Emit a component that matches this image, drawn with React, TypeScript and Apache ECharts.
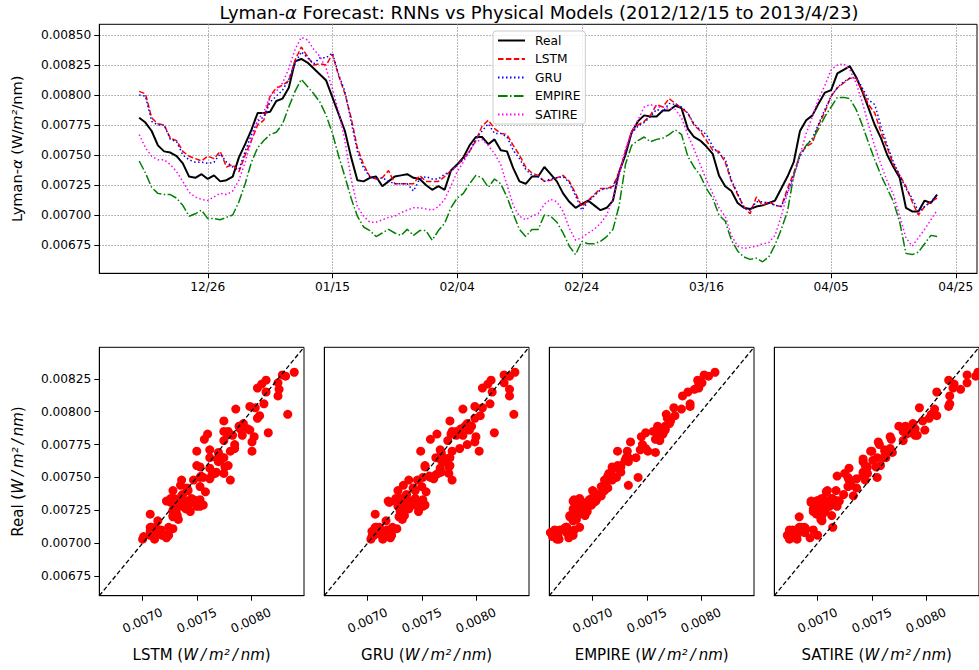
import React, { useEffect, useRef } from 'react';
import * as echarts from 'echarts';

// ---- data (daily values from 2012/12/15, day index 0..128) ----
const titleText = 'Lyman-{i|α} Forecast: RNNs vs Physical Models (2012/12/15 to 2013/4/23)';
const seriesNames = ['Real', 'LSTM', 'GRU', 'EMPIRE', 'SATIRE'];

const real = [
  0.00781, 0.00777, 0.00770, 0.00758, 0.00753, 0.00752, 0.00749, 0.00743, 0.00732, 0.00731,
  0.00734, 0.00730, 0.00733, 0.00728, 0.00729, 0.00732, 0.00748, 0.00759, 0.00771, 0.00785,
  0.00785, 0.00786, 0.00795, 0.00797, 0.00806, 0.00828, 0.00830, 0.00827, 0.00822, 0.00817,
  0.00812, 0.00798, 0.00784, 0.00770, 0.00748, 0.00729, 0.00728, 0.00731, 0.00732, 0.00724,
  0.00728, 0.00732, 0.00733, 0.00734, 0.00731, 0.00730, 0.00725, 0.00721, 0.00724, 0.00721,
  0.00737, 0.00742, 0.00748, 0.00758, 0.00765, 0.00765, 0.00759, 0.00763, 0.00754, 0.00753,
  0.00739, 0.00728, 0.00726, 0.00732, 0.00732, 0.00740, 0.00734, 0.00728, 0.00718, 0.00711,
  0.00706, 0.00709, 0.00712, 0.00708, 0.00704, 0.00706, 0.00712, 0.00736, 0.00750, 0.00769,
  0.00778, 0.00783, 0.00782, 0.00782, 0.00787, 0.00787, 0.00791, 0.00789, 0.00772, 0.00765,
  0.00762, 0.00757, 0.00751, 0.00733, 0.00724, 0.00720, 0.00710, 0.00706, 0.00705, 0.00707,
  0.00708, 0.00710, 0.00712, 0.00722, 0.00732, 0.00744, 0.00770, 0.00779, 0.00783, 0.00793,
  0.00802, 0.00804, 0.00818, 0.00821, 0.00824, 0.00815, 0.00803, 0.00789, 0.00775, 0.00764,
  0.00750, 0.00740, 0.00731, 0.00706, 0.00703, 0.00703, 0.00712, 0.00710, 0.00717,
];

const lstm = [
  0.00803, 0.00801, 0.00781, 0.00776, 0.00775, 0.00764, 0.00762, 0.00753, 0.00749, 0.00747,
  0.00745, 0.00749, 0.00747, 0.00753, 0.00740, 0.00742, 0.00736, 0.00750, 0.00762, 0.00775,
  0.00779, 0.00799, 0.00806, 0.00808, 0.00812, 0.00829, 0.00840, 0.00832, 0.00825, 0.00826,
  0.00825, 0.00834, 0.00816, 0.00801, 0.00781, 0.00756, 0.00742, 0.00732, 0.00730, 0.00731,
  0.00737, 0.00726, 0.00726, 0.00726, 0.00726, 0.00733, 0.00728, 0.00728, 0.00728, 0.00732,
  0.00737, 0.00741, 0.00747, 0.00753, 0.00762, 0.00774, 0.00779, 0.00772, 0.00768, 0.00767,
  0.00758, 0.00750, 0.00740, 0.00735, 0.00733, 0.00728, 0.00729, 0.00731, 0.00733, 0.00728,
  0.00718, 0.00707, 0.00712, 0.00717, 0.00722, 0.00722, 0.00724, 0.00736, 0.00753, 0.00770,
  0.00775, 0.00778, 0.00783, 0.00792, 0.00790, 0.00797, 0.00793, 0.00789, 0.00785, 0.00775,
  0.00770, 0.00762, 0.00754, 0.00753, 0.00744, 0.00728, 0.00717, 0.00707, 0.00701, 0.00715,
  0.00708, 0.00711, 0.00708, 0.00707, 0.00722, 0.00735, 0.00750, 0.00757, 0.00760, 0.00775,
  0.00786, 0.00799, 0.00806, 0.00810, 0.00814, 0.00814, 0.00804, 0.00792, 0.00785, 0.00769,
  0.00756, 0.00742, 0.00733, 0.00724, 0.00711, 0.00700, 0.00707, 0.00711, 0.00714,
];

const gru = [
  0.00800, 0.00799, 0.00778, 0.00775, 0.00775, 0.00763, 0.00761, 0.00750, 0.00746, 0.00744,
  0.00744, 0.00743, 0.00744, 0.00751, 0.00744, 0.00740, 0.00738, 0.00753, 0.00767, 0.00778,
  0.00782, 0.00794, 0.00799, 0.00804, 0.00813, 0.00826, 0.00836, 0.00831, 0.00826, 0.00831,
  0.00831, 0.00835, 0.00817, 0.00803, 0.00778, 0.00753, 0.00739, 0.00732, 0.00730, 0.00731,
  0.00728, 0.00726, 0.00726, 0.00726, 0.00720, 0.00730, 0.00732, 0.00730, 0.00730, 0.00734,
  0.00736, 0.00742, 0.00746, 0.00753, 0.00763, 0.00770, 0.00776, 0.00768, 0.00768, 0.00765,
  0.00754, 0.00747, 0.00738, 0.00733, 0.00732, 0.00728, 0.00730, 0.00731, 0.00732, 0.00727,
  0.00716, 0.00704, 0.00711, 0.00716, 0.00721, 0.00722, 0.00723, 0.00735, 0.00751, 0.00768,
  0.00774, 0.00777, 0.00782, 0.00788, 0.00786, 0.00793, 0.00792, 0.00790, 0.00785, 0.00776,
  0.00771, 0.00767, 0.00757, 0.00751, 0.00747, 0.00729, 0.00718, 0.00706, 0.00704, 0.00711,
  0.00711, 0.00710, 0.00708, 0.00707, 0.00719, 0.00733, 0.00749, 0.00758, 0.00764, 0.00776,
  0.00788, 0.00799, 0.00806, 0.00811, 0.00814, 0.00815, 0.00806, 0.00796, 0.00792, 0.00774,
  0.00758, 0.00744, 0.00733, 0.00722, 0.00714, 0.00703, 0.00707, 0.00711, 0.00717,
];

const empire = [
  0.00745, 0.00735, 0.00723, 0.00718, 0.00717, 0.00717, 0.00714, 0.00708, 0.00699, 0.00701,
  0.00704, 0.00697, 0.00697, 0.00696, 0.00698, 0.00700, 0.00711, 0.00726, 0.00744, 0.00756,
  0.00762, 0.00767, 0.00769, 0.00776, 0.00790, 0.00803, 0.00813, 0.00807, 0.00801, 0.00794,
  0.00783, 0.00768, 0.00749, 0.00732, 0.00714, 0.00699, 0.00690, 0.00687, 0.00682, 0.00685,
  0.00688, 0.00685, 0.00683, 0.00688, 0.00683, 0.00687, 0.00687, 0.00679, 0.00687, 0.00693,
  0.00706, 0.00714, 0.00718, 0.00726, 0.00733, 0.00731, 0.00723, 0.00730, 0.00726, 0.00715,
  0.00701, 0.00688, 0.00682, 0.00688, 0.00688, 0.00700, 0.00699, 0.00694, 0.00685, 0.00674,
  0.00667, 0.00678, 0.00676, 0.00676, 0.00678, 0.00682, 0.00688, 0.00708, 0.00742, 0.00758,
  0.00762, 0.00765, 0.00761, 0.00763, 0.00764, 0.00767, 0.00771, 0.00767, 0.00749, 0.00740,
  0.00733, 0.00722, 0.00714, 0.00700, 0.00695, 0.00679, 0.00670, 0.00665, 0.00663, 0.00664,
  0.00661, 0.00665, 0.00675, 0.00688, 0.00703, 0.00733, 0.00751, 0.00758, 0.00763, 0.00772,
  0.00782, 0.00790, 0.00798, 0.00798, 0.00797, 0.00788, 0.00775, 0.00760, 0.00746, 0.00733,
  0.00722, 0.00711, 0.00694, 0.00668, 0.00667, 0.00669, 0.00676, 0.00683, 0.00682,
];

const satire = [
  0.00767, 0.00756, 0.00749, 0.00746, 0.00746, 0.00742, 0.00736, 0.00728, 0.00719, 0.00715,
  0.00713, 0.00712, 0.00715, 0.00718, 0.00717, 0.00720, 0.00729, 0.00744, 0.00762, 0.00779,
  0.00786, 0.00799, 0.00803, 0.00810, 0.00822, 0.00838, 0.00848, 0.00846, 0.00838, 0.00832,
  0.00822, 0.00805, 0.00786, 0.00762, 0.00730, 0.00707, 0.00699, 0.00694, 0.00694, 0.00696,
  0.00698, 0.00699, 0.00702, 0.00704, 0.00706, 0.00706, 0.00705, 0.00704, 0.00707, 0.00713,
  0.00724, 0.00736, 0.00744, 0.00754, 0.00761, 0.00763, 0.00758, 0.00751, 0.00742, 0.00725,
  0.00708, 0.00699, 0.00696, 0.00699, 0.00701, 0.00709, 0.00713, 0.00711, 0.00703, 0.00689,
  0.00679, 0.00681, 0.00685, 0.00688, 0.00693, 0.00700, 0.00714, 0.00733, 0.00755, 0.00769,
  0.00779, 0.00790, 0.00792, 0.00790, 0.00790, 0.00789, 0.00788, 0.00781, 0.00767, 0.00755,
  0.00742, 0.00729, 0.00718, 0.00706, 0.00699, 0.00683, 0.00674, 0.00672, 0.00673, 0.00674,
  0.00676, 0.00677, 0.00683, 0.00699, 0.00718, 0.00731, 0.00750, 0.00768, 0.00782, 0.00797,
  0.00808, 0.00821, 0.00825, 0.00826, 0.00821, 0.00810, 0.00794, 0.00775, 0.00757, 0.00742,
  0.00728, 0.00717, 0.00699, 0.00681, 0.00674, 0.00681, 0.00688, 0.00696, 0.00704,
];

// ---- ticks ----
const xTickDays = [11, 31, 51, 71, 91, 111, 131];
const xTickLabels = ['12/26', '01/15', '02/04', '02/24', '03/16', '04/05', '04/25'];
const yTicksTop = [0.00675, 0.007, 0.00725, 0.0075, 0.00775, 0.008, 0.00825, 0.0085];
const scatterXTicks = [0.007, 0.0075, 0.008];
const scatterYTicks = [0.00675, 0.007, 0.00725, 0.0075, 0.00775, 0.008, 0.00825];

// axis extents
const topXRange = [-6.4, 134.4];
const topYRange = [0.006514, 0.008589];
const scatterRange = [0.0066, 0.00849];

const FONT = "'DejaVu Sans', sans-serif";
const UNIT_ITALIC = 'W\u2009/\u2009m²\u2009/\u2009nm';

export default function App() {
  const ref = useRef<HTMLDivElement>(null);

  useEffect(() => {
    if (!ref.current) return;
    const chart = echarts.init(ref.current, undefined, { renderer: 'svg' });

    const models = [
      { name: 'LSTM', data: lstm },
      { name: 'GRU', data: gru },
      { name: 'EMPIRE', data: empire },
      { name: 'SATIRE', data: satire },
    ];
    const lineDefs = [
      { name: 'Real', data: real, color: '#000000', width: 2, type: 'solid' as any },
      { name: 'LSTM', data: lstm, color: '#ff0000', width: 1.5, type: [5.5, 2.4] },
      { name: 'GRU', data: gru, color: '#0000ff', width: 1.5, type: [1.5, 2.5] },
      { name: 'EMPIRE', data: empire, color: '#008000', width: 1.5, type: [9.6, 2.4, 1.5, 2.4] },
      { name: 'SATIRE', data: satire, color: '#ff00ff', width: 1.5, type: [1.5, 2.5] },
    ];

    const panelLefts = [99.3, 324.3, 549.3, 774.3];
    const panelW = 204.7;
    const panelTop = 347.3;
    const panelH = 248.4;

    const nameStyle = (size: number) => ({
      fontSize: size,
      fontFamily: FONT,
      color: '#000',
      rich: { i: { fontStyle: 'italic', fontSize: size, fontFamily: FONT, color: '#000' } },
    });

    const grids: any[] = [
      { left: 99.3, top: 24.3, width: 877.7, height: 249, show: true, borderColor: '#000', borderWidth: 1, outerBoundsMode: 'none' },
    ];
    panelLefts.forEach((l) => {
      grids.push({ left: l, top: panelTop, width: panelW, height: panelH, show: true, borderColor: '#000', borderWidth: 1, outerBoundsMode: 'none' });
    });

    const axisLine = { show: true, onZero: false, lineStyle: { color: '#000', width: 1 } };
    const gridLine = { show: true, lineStyle: { color: '#a0a0a0', width: 1, type: [1.5, 1.5] } };

    const xAxes: any[] = [
      {
        gridIndex: 0,
        type: 'value',
        min: topXRange[0],
        max: topXRange[1],
        axisLine,
        axisTick: { show: true, length: 5, lineStyle: { color: '#000' }, customValues: xTickDays },
        axisLabel: {
          customValues: xTickDays,
          formatter: (v: number) => {
            const i = xTickDays.findIndex((d) => Math.abs(d - v) < 1e-6);
            return i >= 0 ? xTickLabels[i] : '';
          },
          fontSize: 12.2,
          fontFamily: FONT,
          color: '#000',
          margin: 8,
        },
        splitLine: gridLine,
      },
    ];
    const yAxes: any[] = [
      {
        gridIndex: 0,
        type: 'value',
        min: topYRange[0],
        max: topYRange[1],
        axisLine,
        axisTick: { show: true, length: 5, lineStyle: { color: '#000' }, customValues: yTicksTop },
        axisLabel: {
          customValues: yTicksTop,
          formatter: (v: number) => v.toFixed(5),
          fontSize: 12.2,
          fontFamily: FONT,
          color: '#000',
          margin: 8,
        },
        splitLine: gridLine,
        name: 'Lyman-{i|α} (W/{i|m²}/nm)',
        nameLocation: 'middle',
        nameGap: 75,
        nameRotate: 90,
        nameTextStyle: nameStyle(14.6),
      },
    ];

    models.forEach((m, k) => {
      xAxes.push({
        gridIndex: k + 1,
        type: 'value',
        min: scatterRange[0],
        max: scatterRange[1],
        axisLine,
        axisTick: { show: true, length: 5, lineStyle: { color: '#000' }, customValues: scatterXTicks },
        axisLabel: {
          customValues: scatterXTicks,
          formatter: (v: number) => v.toFixed(4),
          fontSize: 12.2,
          fontFamily: FONT,
          color: '#000',
          rotate: 25,
          align: 'center',
          verticalAlign: 'middle',
          margin: 25,
        },
        splitLine: { show: false },
        name: m.name + ' ({i|' + UNIT_ITALIC + '})',
        nameLocation: 'middle',
        nameGap: 52,
        nameTextStyle: nameStyle(15),
      });
      yAxes.push({
        gridIndex: k + 1,
        type: 'value',
        min: scatterRange[0],
        max: scatterRange[1],
        axisLine,
        axisTick: { show: k === 0, length: 5, lineStyle: { color: '#000' }, customValues: scatterYTicks },
        axisLabel: {
          show: k === 0,
          customValues: scatterYTicks,
          formatter: (v: number) => v.toFixed(5),
          fontSize: 12.2,
          fontFamily: FONT,
          color: '#000',
          margin: 8,
        },
        splitLine: { show: false },
        name: k === 0 ? 'Real ({i|' + UNIT_ITALIC + '})' : '',
        nameLocation: 'middle',
        nameGap: 74,
        nameRotate: 90,
        nameTextStyle: nameStyle(15),
      });
    });

    const series: any[] = lineDefs.map((s) => ({
      type: 'line',
      name: s.name,
      xAxisIndex: 0,
      yAxisIndex: 0,
      data: s.data.map((v, i) => [i, v]),
      symbol: 'none',
      showSymbol: false,
      smooth: false,
      lineStyle: { color: s.color, width: s.width, type: s.type },
      itemStyle: { color: s.color },
      emphasis: { disabled: true },
    }));

    models.forEach((m, k) => {
      series.push({
        type: 'scatter',
        name: m.name + ' vs Real',
        xAxisIndex: k + 1,
        yAxisIndex: k + 1,
        data: m.data.map((v, i) => [v, real[i]]),
        symbol: 'circle',
        symbolSize: 9,
        itemStyle: { color: '#ff0000', opacity: 1 },
        emphasis: { disabled: true },
      });
      series.push({
        type: 'line',
        name: 'identity' + k,
        xAxisIndex: k + 1,
        yAxisIndex: k + 1,
        data: [
          [scatterRange[0], scatterRange[0]],
          [scatterRange[1], scatterRange[1]],
        ],
        symbol: 'none',
        lineStyle: { color: '#000', width: 1.3, type: [4.5, 2.5] },
        silent: true,
        emphasis: { disabled: true },
      });
    });

    chart.setOption({
      animation: false,
      backgroundColor: '#ffffff',
      textStyle: { fontFamily: FONT },
      grid: grids,
      xAxis: xAxes,
      yAxis: yAxes,
      legend: {
        data: seriesNames,
        orient: 'vertical',
        left: 493,
        top: 31,
        itemWidth: 27,
        itemHeight: 14,
        itemGap: 6.5,
        padding: [3.5, 5, 3.5, 4],
        backgroundColor: 'rgba(255,255,255,0.8)',
        borderColor: '#cccccc',
        borderWidth: 1,
        borderRadius: 3,
        itemStyle: { opacity: 0, borderWidth: 0 },
        textStyle: { fontSize: 12.2, fontFamily: FONT, color: '#000', padding: [0, 0, 0, 5] },
      },
      graphic: [
        {
          type: 'text',
          x: 539,
          y: 12,
          style: {
            text: titleText,
            fontSize: 18,
            fontFamily: FONT,
            fill: '#000',
            align: 'center',
            verticalAlign: 'middle',
            rich: { i: { fontStyle: 'italic', fontSize: 18, fontFamily: FONT, fill: '#000' } },
          },
        },
      ],
      series,
    });

    return () => {
      chart.dispose();
    };
  }, []);

  return (
    <div
      ref={ref}
      style={{ position: 'fixed', left: 0, top: 0, width: 979, height: 670, background: '#fff' }}
    />
  );
}
